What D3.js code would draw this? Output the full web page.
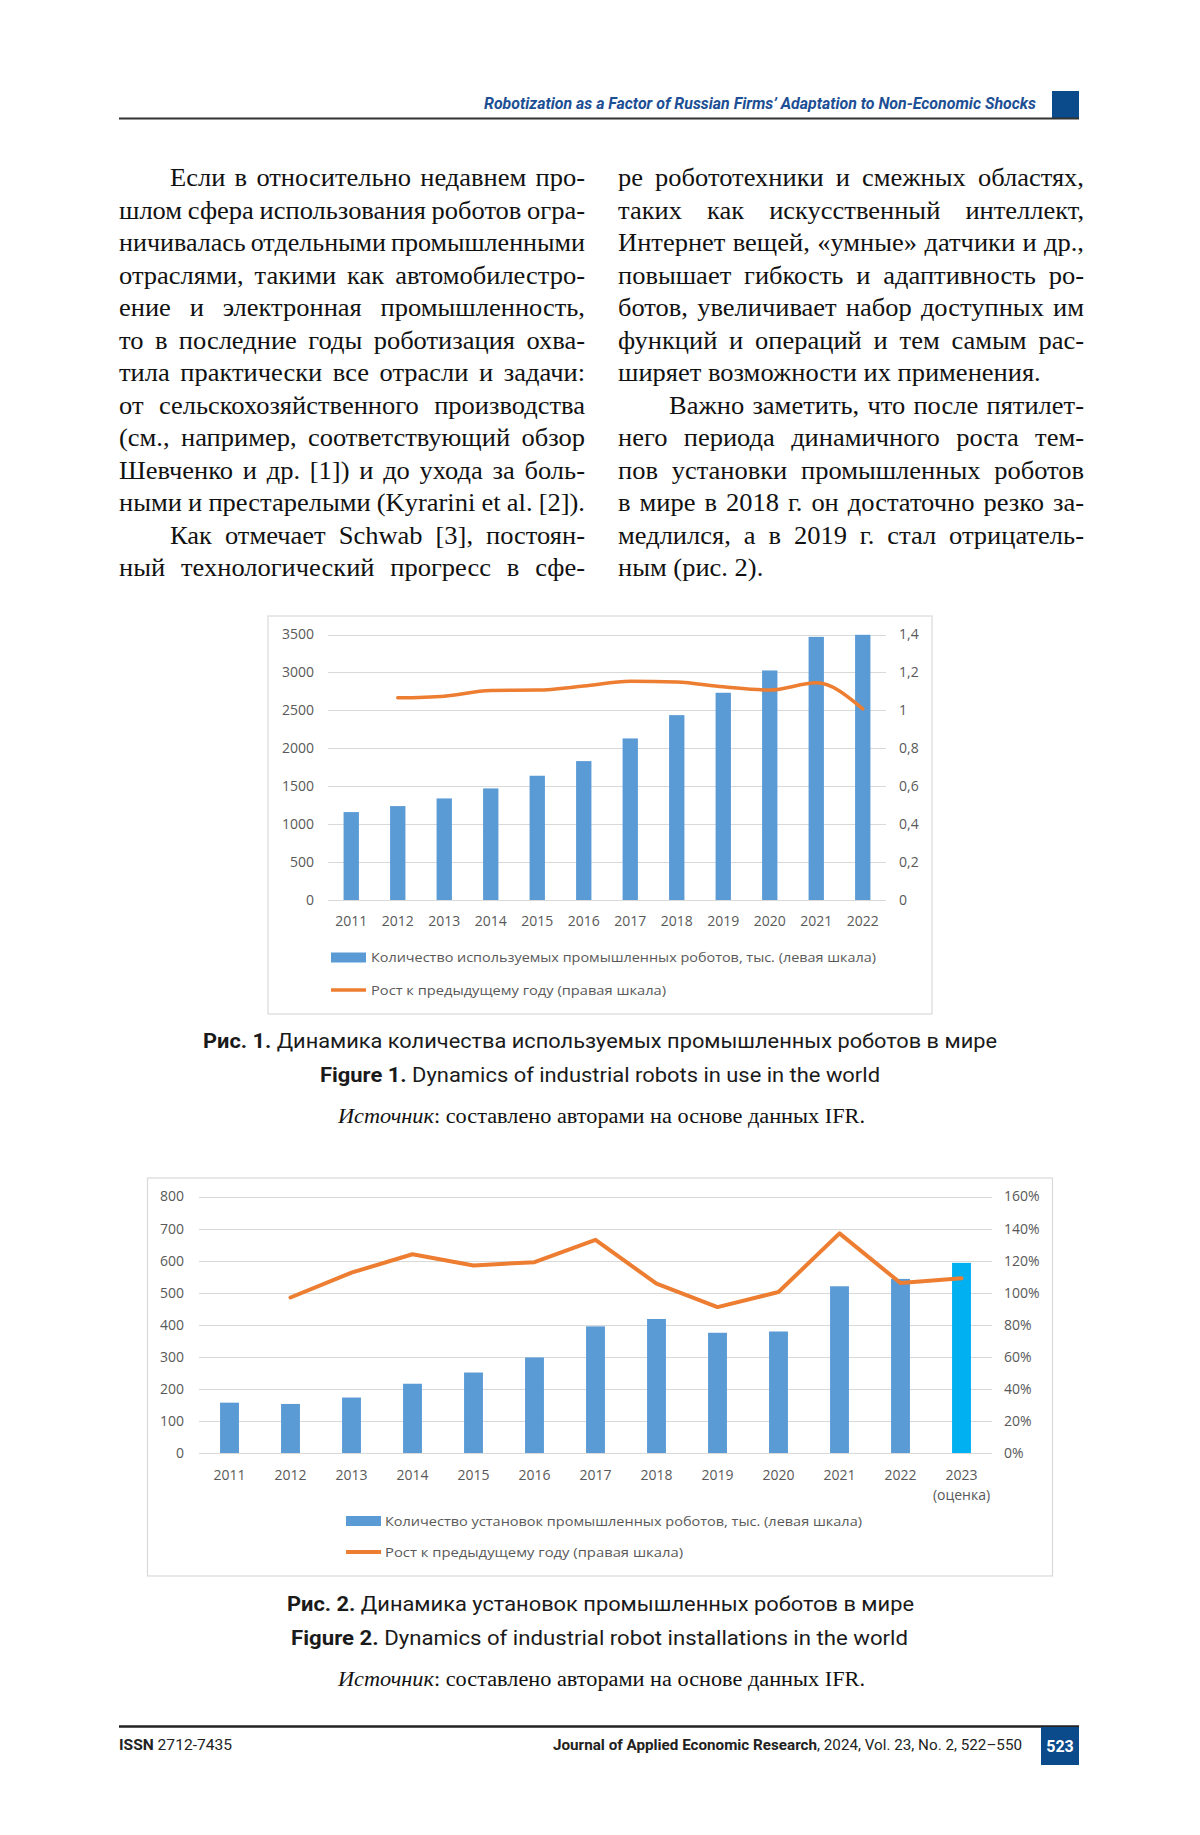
<!DOCTYPE html>
<html><head><meta charset="utf-8">
<script src="https://cdn.jsdelivr.net/npm/d3@7"></script>
<style>
html,body{margin:0;padding:0;background:#fff;}
svg{display:block;}
</style></head>
<body>
<svg id="page" width="1200" height="1835"></svg>
<script>
// ---------- DATA ----------
const years1 = ["2011","2012","2013","2014","2015","2016","2017","2018","2019","2020","2021","2022"];
const robotsInUse = [1159,1238,1339,1471,1638,1831,2130,2437,2732,3026,3469,3496];
const growthInUse = [null,1.066,1.075,1.105,1.107,1.128,1.154,1.149,1.124,1.107,1.145,1.008];
const leftTicks1 = [0,500,1000,1500,2000,2500,3000,3500];
const rightTicks1 = [0,0.2,0.4,0.6,0.8,1,1.2,1.4];

const years2 = ["2011","2012","2013","2014","2015","2016","2017","2018","2019","2020","2021","2022","2023"];
const installs = [157,153,173,216,251,298,395,418,375,379,520,543,593];
const growthInstalls = [null,0.97,1.125,1.24,1.17,1.19,1.33,1.056,0.91,1.004,1.37,1.06,1.09];
const leftTicks2 = [0,100,200,300,400,500,600,700,800];
const rightTicks2 = [0,0.2,0.4,0.6,0.8,1,1.2,1.4,1.6];
const estimateIndex = 12;

const legend1 = ["Количество используемых промышленных роботов, тыс. (левая шкала)","Рост к предыдущему году (правая шкала)"];
const legend2 = ["Количество установок промышленных роботов, тыс. (левая шкала)","Рост к предыдущему году (правая шкала)"];

const leftColumn = [
 ["Если в относительно недавнем про-", true, true],
 ["шлом сфера использования роботов огра-", false, true],
 ["ничивалась отдельными промышленными", false, true],
 ["отраслями, такими как автомобилестро-", false, true],
 ["ение и электронная промышленность,", false, true],
 ["то в последние годы роботизация охва-", false, true],
 ["тила практически все отрасли и задачи:", false, true],
 ["от сельскохозяйственного производства", false, true],
 ["(см., например, соответствующий обзор", false, true],
 ["Шевченко и др. [1]) и до ухода за боль-", false, true],
 ["ными и престарелыми (Kyrarini et al. [2]).", false, true],
 ["Как отмечает Schwab [3], постоян-", true, true],
 ["ный технологический прогресс в сфе-", false, true]
];
const rightColumn = [
 ["ре робототехники и смежных областях,", false, true],
 ["таких как искусственный интеллект,", false, true],
 ["Интернет вещей, «умные» датчики и др.,", false, true],
 ["повышает гибкость и адаптивность ро-", false, true],
 ["ботов, увеличивает набор доступных им", false, true],
 ["функций и операций и тем самым рас-", false, true],
 ["ширяет возможности их применения.", false, false],
 ["Важно заметить, что после пятилет-", true, true],
 ["него периода динамичного роста тем-", false, true],
 ["пов установки промышленных роботов", false, true],
 ["в мире в 2018 г. он достаточно резко за-", false, true],
 ["медлился, а в 2019 г. стал отрицатель-", false, true],
 ["ным (рис. 2).", false, false]
];

// ---------- PAGE ----------
const svg = d3.select("#page");
svg.append("rect").attr("width",1200).attr("height",1835).attr("fill","#fff");

const BLUE = "#0b4a8b";
const BAR = "#5B9BD5", ORANGE = "#ED7D31", GRID = "#D9D9D9", TICK = "#595959";
const SANS = "Roboto, 'Noto Sans', sans-serif";
const SERIF = "'Liberation Serif', 'DejaVu Serif', serif";
const CHART = "'Open Sans', 'Noto Sans', sans-serif";

function fitText(sel, w){ sel.attr("textLength", w).attr("lengthAdjust","spacingAndGlyphs"); return sel; }

// Header
svg.append("rect").attr("x",1052).attr("y",91).attr("width",27).attr("height",28).attr("fill",BLUE);
svg.append("line").attr("x1",119).attr("x2",1079).attr("y1",118.5).attr("y2",118.5).attr("stroke","#333").attr("stroke-width",2);
fitText(svg.append("text").attr("x",484).attr("y",108.5).attr("font-family",SANS).attr("font-size",16)
  .attr("font-weight","bold").attr("font-style","italic").attr("fill","#1d4f95")
  .text("Robotization as a Factor of Russian Firms’ Adaptation to Non-Economic Shocks"), 552);

// Body text
const SX = 1.06;
const MIN_WS = -1.5;
function column(lines, x0, width){
  const g = svg.append("g").attr("font-family",SERIF).attr("font-size",25).attr("fill","#111");
  lines.forEach((l,i)=>{
    const indent = l[1] ? 51 : 0;
    const y = 186 + i*32.5;
    const t = g.append("text").attr("transform",`translate(${x0+indent},${y}) scale(${SX},1)`).text(l[0]);
    const w = t.node().getComputedTextLength();
    if (l[2]) {
      const target = (width - indent)/SX;
      const n = (l[0].match(/ /g)||[]).length;
      let ws = n>0 ? (target - w)/n : 0;
      if (ws < MIN_WS) {
        t.style("word-spacing", MIN_WS + "px");
        fitText(t, target);
      } else {
        t.style("word-spacing", ws + "px");
        const w2 = t.node().getComputedTextLength();
        if (Math.abs(w2-target) > 2) t.style("word-spacing",null).attr("textLength",target).attr("lengthAdjust","spacing");
      }
    }
  });
}
column(leftColumn, 119, 466);
column(rightColumn, 618, 466);

// ---------- Chart helper ----------
function drawChart(cfg){
  const g = svg.append("g");
  g.append("rect").attr("x",cfg.box[0]).attr("y",cfg.box[1]).attr("width",cfg.box[2]).attr("height",cfg.box[3])
    .attr("fill","#fff").attr("stroke",GRID).attr("stroke-width",1.2);
  const x = d3.scaleBand().domain(cfg.cats).range([cfg.x0,cfg.x1]).paddingInner(cfg.pad).paddingOuter(cfg.pad/2);
  const yL = d3.scaleLinear().domain([0,cfg.maxL]).range([cfg.yBottom,cfg.yTop]);
  const yR = d3.scaleLinear().domain([0,cfg.maxR]).range([cfg.yBottom,cfg.yTop]);
  g.append("g").selectAll("line").data(cfg.leftTicks).join("line")
    .attr("x1",cfg.x0).attr("x2",cfg.x1).attr("y1",d=>Math.round(yL(d))+0.5).attr("y2",d=>Math.round(yL(d))+0.5)
    .attr("stroke",GRID).attr("stroke-width",1.2);
  const la = g.append("g").attr("transform",`translate(${cfg.leftLabelX},0)`)
    .call(d3.axisLeft(yL).tickValues(cfg.leftTicks).tickSize(0).tickPadding(0).tickFormat(d3.format("d")));
  la.select(".domain").remove();
  la.selectAll("text").attr("font-family",CHART).attr("font-size",cfg.fs).attr("fill",TICK);
  const ra = g.append("g").attr("transform",`translate(${cfg.rightLabelX},0)`)
    .call(d3.axisRight(yR).tickValues(cfg.rightTicks).tickSize(0).tickPadding(0).tickFormat(cfg.rightFmt));
  ra.select(".domain").remove();
  ra.selectAll("text").attr("font-family",CHART).attr("font-size",cfg.fs).attr("fill",TICK);
  g.append("g").selectAll("rect").data(cfg.values).join("rect")
    .attr("x",(d,i)=>x(cfg.cats[i])).attr("width",x.bandwidth())
    .attr("y",d=>yL(d)).attr("height",d=>yL(0)-yL(d))
    .attr("fill",(d,i)=>cfg.barColor(i));
  const xa = g.append("g").attr("transform",`translate(0,${cfg.xLabelY})`)
    .call(d3.axisBottom(x).tickSize(0).tickPadding(0));
  xa.select(".domain").remove();
  xa.selectAll("text").attr("font-family",CHART).attr("font-size",cfg.fs).attr("fill",TICK).attr("dy","0.35em");
  if (cfg.extraLabel) {
    g.append("text").attr("x",x(cfg.cats[cfg.extraLabel[0]])+x.bandwidth()/2).attr("y",cfg.extraLabel[2])
      .attr("text-anchor","middle").attr("dy","0.35em").attr("font-family",CHART).attr("font-size",cfg.fs)
      .attr("fill",TICK).text(cfg.extraLabel[1]);
  }
  const pts = cfg.growth.map((v,i)=>[v,i]).filter(d=>d[0]!=null);
  const line = d3.line().x(d=>x(cfg.cats[d[1]])+x.bandwidth()/2).y(d=>yR(d[0])).curve(cfg.curve);
  g.append("path").datum(pts).attr("d",line).attr("fill","none").attr("stroke",ORANGE)
    .attr("stroke-width",cfg.lw).attr("stroke-linejoin","round").attr("stroke-linecap","round");
  const L = cfg.legend;
  g.append("rect").attr("x",L.x).attr("y",L.y1-5).attr("width",L.sw).attr("height",10).attr("fill",BAR);
  g.append("line").attr("x1",L.x).attr("x2",L.x+L.sw).attr("y1",L.y2).attr("y2",L.y2).attr("stroke",ORANGE).attr("stroke-width",cfg.lw);
  fitText(g.append("text").attr("x",L.tx).attr("y",L.y1).attr("dy","0.35em").attr("font-family",CHART)
    .attr("font-size",L.fs).attr("fill",TICK).text(cfg.legendText[0]), L.w1);
  fitText(g.append("text").attr("x",L.tx).attr("y",L.y2).attr("dy","0.35em").attr("font-family",CHART)
    .attr("font-size",L.fs).attr("fill",TICK).text(cfg.legendText[1]), L.w2);
}

drawChart({
  box:[268,616,664,398], cats:years1, values:robotsInUse, growth:growthInUse,
  x0:328, x1:886, pad:0.67, yBottom:900, yTop:634.5, maxL:3500, maxR:1.4,
  leftTicks:leftTicks1, rightTicks:rightTicks1, leftLabelX:314, rightLabelX:899,
  rightFmt:d=>d3.format("~g")(d).replace(".",","), fs:14, xLabelY:921,
  barColor:()=>BAR, curve:d3.curveMonotoneX, lw:3.5,
  legend:{x:331, sw:35, y1:957.5, y2:990, tx:371, fs:13, w1:505, w2:295},
  legendText:legend1
});

drawChart({
  box:[147.5,1178,905,398], cats:years2, values:installs, growth:growthInstalls,
  x0:199, x1:992, pad:0.69, yBottom:1453, yTop:1196.5, maxL:800, maxR:1.6,
  leftTicks:leftTicks2, rightTicks:rightTicks2, leftLabelX:184, rightLabelX:1004,
  rightFmt:d3.format(".0%"), fs:14, xLabelY:1475,
  barColor:i=> i===estimateIndex ? "#00B0F0" : BAR, curve:d3.curveLinear, lw:4,
  extraLabel:[estimateIndex,"(оценка)",1495],
  legend:{x:346, sw:35, y1:1521, y2:1552, tx:385, fs:13, w1:477, w2:298},
  legendText:legend2
});

// ---------- Captions ----------
function caption(y, bold, rest, x, w){
  const t = svg.append("text").attr("x",x).attr("y",y).attr("font-family",SANS).attr("font-size",20).attr("fill","#1a1a1a");
  t.append("tspan").attr("font-weight","bold").text(bold);
  t.append("tspan").text(" " + rest);
  fitText(t, w);
}
function source(y){
  const t = svg.append("text").attr("x",338).attr("y",y).attr("font-family",SERIF).attr("font-size",20).attr("fill","#111");
  t.append("tspan").attr("font-style","italic").text("Источник");
  t.append("tspan").text(": составлено авторами на основе данных IFR.");
  fitText(t, 527);
}
caption(1048, "Рис. 1.", "Динамика количества используемых промышленных роботов в мире", 203, 794);
caption(1082, "Figure 1.", "Dynamics of industrial robots in use in the world", 320, 560);
source(1123);
caption(1611, "Рис. 2.", "Динамика установок промышленных роботов в мире", 287, 627);
caption(1645, "Figure 2.", "Dynamics of industrial robot installations in the world", 291, 617);
source(1686);

// ---------- Footer ----------
svg.append("line").attr("x1",119).attr("x2",1079).attr("y1",1726.5).attr("y2",1726.5).attr("stroke","#222").attr("stroke-width",2.5);
svg.append("rect").attr("x",1041).attr("y",1727).attr("width",38).attr("height",38).attr("fill",BLUE);
svg.append("text").attr("x",1060).attr("y",1752).attr("text-anchor","middle").attr("font-family",SANS)
  .attr("font-size",16).attr("font-weight","bold").attr("fill","#fff").text("523");
const issn = svg.append("text").attr("x",119).attr("y",1750).attr("font-family",SANS).attr("font-size",14).attr("fill","#222");
issn.append("tspan").attr("font-weight","bold").text("ISSN");
issn.append("tspan").text(" 2712-7435");
fitText(issn, 113);
const jr = svg.append("text").attr("x",553).attr("y",1750).attr("font-family",SANS).attr("font-size",14).attr("fill","#222");
jr.append("tspan").attr("font-weight","bold").text("Journal of Applied Economic Research");
jr.append("tspan").text(", 2024, Vol. 23, No. 2, 522–550");
fitText(jr, 469);
</script>
</body></html>
